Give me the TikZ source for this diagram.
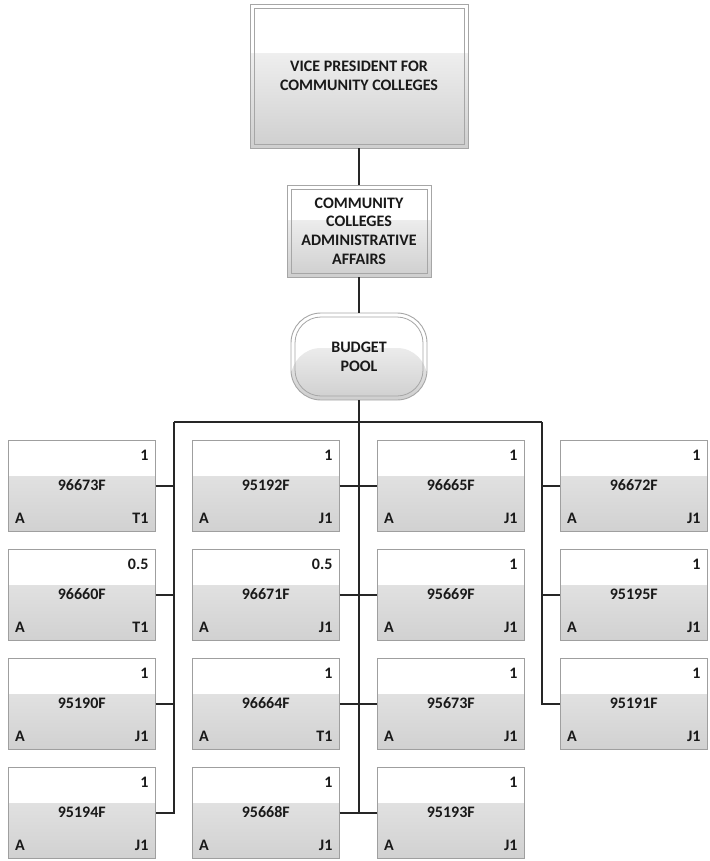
\documentclass[tikz,border=0pt]{standalone}
\usepackage{fontspec}
\setmainfont{Carlito}
\usetikzlibrary{calc}
\begin{document}
\begin{tikzpicture}[x=1pt,y=-1pt,
  txt/.style={font=\bfseries\fontsize{16}{18.5}\selectfont, text=black!90, inner sep=0pt},
  conn/.style={line width=1.6pt, draw=black!85},
  posbox/.style={draw=gray!75, line width=0.6pt, fill=white, minimum width=147pt,
    minimum height=91pt, anchor=north west, inner sep=0pt,
    path picture={\shade[top color=gray!16, bottom color=gray!36]
      ([yshift=-36pt]path picture bounding box.north west) rectangle
      (path picture bounding box.south east);}},
  hdbox/.style={draw=gray!70, line width=0.9pt, fill=white, inner sep=0pt, align=center,
    font=\bfseries\fontsize{16}{18.7}\selectfont, text=black!90},
  hdshade/.style={path picture={\shade[top color=white, bottom color=gray!38]
      ([yshift=-#1]path picture bounding box.north west) rectangle
      (path picture bounding box.south east);
      \draw[gray!70, line width=0.8pt]
      ([shift={(4pt,-4pt)}]path picture bounding box.north west) rectangle
      ([shift={(-4pt,4pt)}]path picture bounding box.south east);}},
  poolshade/.style={path picture={\shade[top color=white, bottom color=gray!38]
      ([yshift=-#1]path picture bounding box.north west) rectangle
      (path picture bounding box.south east);
      \draw[gray!70, line width=0.8pt, rounded corners=26pt]
      ([shift={(4pt,-4pt)}]path picture bounding box.north west) rectangle
      ([shift={(-4pt,4pt)}]path picture bounding box.south east);}}
]
\useasboundingbox (0,0) rectangle (709,861);

\newcommand{\pbox}[6]{%
  \node[posbox] (#1) at (#2,#3) {};
  \node[txt, anchor=east] (#1n) at ([xshift=-7pt,yshift=-15pt]#1.north east) {#4};
  \node[txt] (#1i) at ([yshift=-45pt]#1.north) {#5};
  \node[txt, anchor=west] (#1a) at ([xshift=7pt,yshift=-78pt]#1.north west) {A};
  \node[txt, anchor=east] (#1g) at ([xshift=-7pt,yshift=-78pt]#1.north east) {#6};
}

% header boxes
\node[hdbox, hdshade=50pt, minimum width=218pt, minimum height=144pt] (vp) at (359,76)
  {VICE PRESIDENT FOR\\COMMUNITY COLLEGES};
\node[hdbox, hdshade=35pt, minimum width=144pt, minimum height=92pt] (adm) at (359,231)
  {COMMUNITY\\COLLEGES\\ADMINISTRATIVE\\AFFAIRS};
\node[hdbox, poolshade=35pt, rounded corners=30pt, minimum width=136pt, minimum height=87pt] (pool) at (359,356.5)
  {BUDGET\\POOL};

% position boxes
\pbox{a1}{8}{440}{1}{96673F}{T1}
\pbox{a2}{8}{549}{0.5}{96660F}{T1}
\pbox{a3}{8}{658}{1}{95190F}{J1}
\pbox{a4}{8}{767}{1}{95194F}{J1}

\pbox{b1}{192}{440}{1}{95192F}{J1}
\pbox{b2}{192}{549}{0.5}{96671F}{J1}
\pbox{b3}{192}{658}{1}{96664F}{T1}
\pbox{b4}{192}{767}{1}{95668F}{J1}

\pbox{c1}{377}{440}{1}{96665F}{J1}
\pbox{c2}{377}{549}{1}{95669F}{J1}
\pbox{c3}{377}{658}{1}{95673F}{J1}
\pbox{c4}{377}{767}{1}{95193F}{J1}

\pbox{d1}{560}{440}{1}{96672F}{J1}
\pbox{d2}{560}{549}{1}{95195F}{J1}
\pbox{d3}{560}{658}{1}{95191F}{J1}

% connectors
\coordinate (busL) at (174,422);
\coordinate (busR) at (542,422);
\draw[conn] (vp.south) -- (adm.north);
\draw[conn] (adm.south) -- (pool.north);
\draw[conn] (pool.south) -- (pool.south |- b4.east);
\draw[conn] (busL) -- (busR);
\draw[conn] (busL) |- (a4.east);
\draw[conn] (busR) |- (d3.west);
\foreach \r in {1,2,3} {
  \draw[conn] (a\r.east) -- (a\r.east -| busL);
  \draw[conn] (d\r.west) -- (d\r.west -| busR);
}
\foreach \r in {1,2,3,4} {
  \draw[conn] (b\r.east) -- (c\r.west);
}
\end{tikzpicture}
\end{document}
